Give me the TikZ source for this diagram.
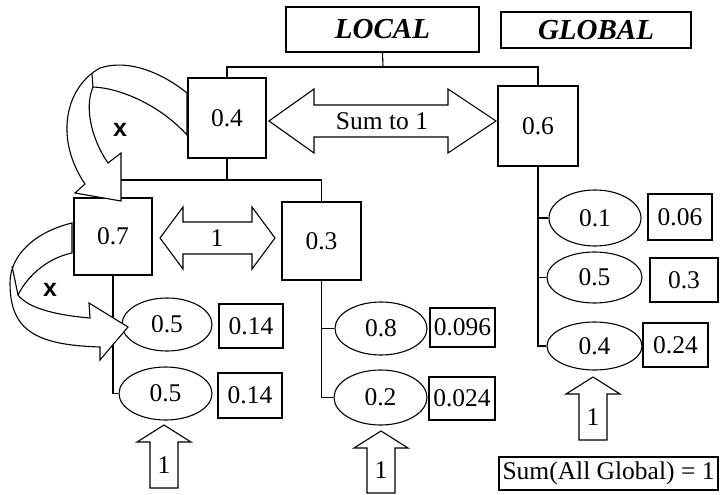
\documentclass[tikz,border=0pt]{standalone}
\usepackage{fontspec}
\setmainfont{Liberation Serif}
\newfontfamily\xsans{Liberation Sans}
\usetikzlibrary{shapes.geometric}

\tikzset{
  level/.style={draw, inner sep=0pt, font=\fontsize{29}{33}\selectfont\bfseries\itshape},
  wbox/.style={draw, inner sep=0pt},
  well/.style={draw, ellipse, inner sep=0pt},
  blockarr/.style={draw, fill=white, line join=miter},
  mult/.style={font=\xsans\fontsize{25}{30}\selectfont\bfseries},
}

\begin{document}
\begin{tikzpicture}[x=1pt, y=-1pt, line width=1.1pt, font=\fontsize{25.5}{30}\selectfont]
\useasboundingbox (0,0) rectangle (723,495);

% headings
\node[level, minimum width=193pt, minimum height=45pt] (local) at (382.5,29.5) {LOCAL};
\node[level, minimum width=190pt, minimum height=36pt] (global) at (596,30) {GLOBAL};

% local weights
\node[wbox, minimum width=78pt, minimum height=80pt] (n04) at (227,118) {0.4};
\node[wbox, minimum width=80pt, minimum height=80pt] (n06) at (538,126) {0.6};
\node[wbox, minimum width=78pt, minimum height=77pt] (n07) at (113,236.5) {0.7};
\node[wbox, minimum width=79pt, minimum height=78pt] (n03) at (321.5,241) {0.3};

% leaves and their global weights
\node[well, minimum width=90pt, minimum height=53pt] (e05a) at (167,324.5) {0.5};
\node[wbox, minimum width=64pt, minimum height=44pt] (g014a) at (251,326) {0.14};
\node[well, minimum width=93pt, minimum height=53pt] (e05b) at (165.5,393.5) {0.5};
\node[wbox, minimum width=64pt, minimum height=45pt] (g014b) at (250,395.5) {0.14};
\node[well, minimum width=92pt, minimum height=53pt] (e08) at (381,328.5) {0.8};
\node[wbox, minimum width=65pt, minimum height=39pt] (g0096) at (462.5,327.5) {0.096};
\node[well, minimum width=93pt, minimum height=55pt] (e02) at (380.5,397.5) {0.2};
\node[wbox, minimum width=66pt, minimum height=43pt] (g0024) at (462,398.5) {0.024};
\node[well, minimum width=92pt, minimum height=56pt] (e01) at (595,218) {0.1};
\node[wbox, minimum width=64pt, minimum height=46pt] (g006) at (680,217) {0.06};
\node[well, minimum width=95pt, minimum height=51pt] (e05c) at (594.5,277.5) {0.5};
\node[wbox, minimum width=68pt, minimum height=44pt] (g03) at (684,280) {0.3};
\node[well, minimum width=95pt, minimum height=48pt] (e04) at (594.5,346) {0.4};
\node[wbox, minimum width=65pt, minimum height=44pt] (g024) at (675.5,345) {0.24};

\node[wbox, minimum width=219pt, minimum height=33pt] (sumall) at (608.5,473.5) {Sum(All Global) = 1};

% tree lines
\coordinate (j1) at (383,67);
\coordinate (j2) at (227,180);
\draw (local.south) -- (j1);
\draw (n04.north) |- (j1) -| (n06.north);
\draw (n04.south) -- (j2);
\draw (n07.north) |- (j2) -| (n03.north);
\draw (n07.south) |- (e05b.west);
\draw (n03.south) |- (e02.west);
\draw (e08.west) -- (e08.west -| n03.south);
\draw (n06.south) |- (e04.west);
\draw (e01.west) -- (e01.west -| n06.south);
\draw (e05c.west) -- (e05c.west -| n06.south);

% double arrows
\draw[blockarr] (269,121) -- (314,89) -- (314,105) -- (448,105) -- (448,89) -- (496,121)
  -- (448,153) -- (448,137) -- (314,137) -- (314,153) -- cycle;
\node (sumto) at (382,121) {Sum to 1};
\draw[blockarr] (160,238) -- (183,207) -- (183,222) -- (252,222) -- (252,207) -- (275,238)
  -- (252,269) -- (252,254) -- (183,254) -- (183,269) -- cycle;
\node (one) at (217,238) {1};

% up arrows
\foreach \ax/\tip/\bot [count=\i] in {164/425/488, 381/431/493, 593/377/440} {
  \draw[blockarr] (\ax,\tip) -- ({\ax+27},{\tip+17}) -- ({\ax+14},{\tip+17}) -- ({\ax+14},\bot)
    -- ({\ax-14},\bot) -- ({\ax-14},{\tip+17}) -- ({\ax-27},{\tip+17}) -- cycle;
  \node (up\i) at (\ax,{(\tip+17+\bot)/2}) {1};
}

% curved arrows
\draw[blockarr] (187,93) .. controls (165,75) and (130,58) .. (100,68)
  .. controls (64,88) and (55,140) .. (85,184)
  -- (75,193) -- (121,201) -- (121,153) -- (108,163)
  .. controls (92,140) and (84,108) .. (93,87)
  .. controls (120,88) and (160,105) .. (187,135) -- cycle;
\draw (93,87) -- (92,74);
\node[mult] (x1) at (120,130) {x};

\draw[blockarr] (72,223) .. controls (35,232) and (10,255) .. (10,283)
  .. controls (10,330) and (35,345) .. (100,347)
  -- (100,360) -- (128,327) -- (89,303) -- (90,318)
  .. controls (55,315) and (28,308) .. (18,295)
  .. controls (28,275) and (48,258) .. (72,253) -- cycle;
\draw (18,295) -- (12,266);
\node[mult] (x2) at (50,290) {x};
\end{tikzpicture}
\end{document}
